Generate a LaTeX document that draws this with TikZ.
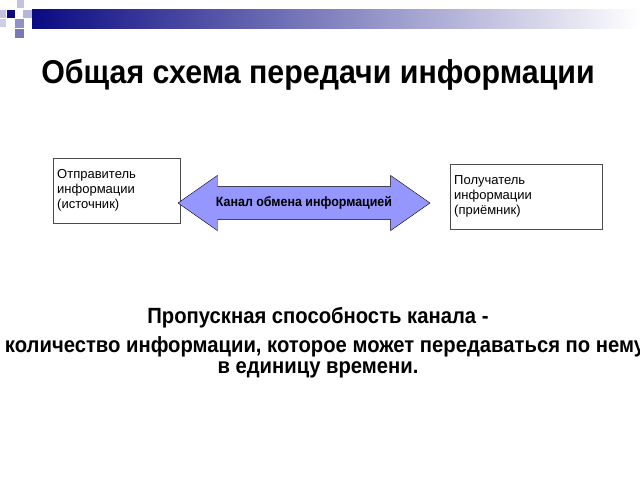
\documentclass[tikz,border=0pt]{standalone}
\usepackage{fontspec}
\setmainfont{Liberation Sans}
\newfontfamily\narrowbf[FakeStretch=0.92]{Liberation Sans Bold}
\usetikzlibrary{shapes.arrows}
\definecolor{navy}{RGB}{10,10,130}
\definecolor{lilac}{RGB}{150,150,255}
\tikzstyle{party} = [rectangle, draw=black!70, fill=white, align=left, anchor=north west, font=\fontsize{13}{15}\selectfont, inner sep=4pt]
\tikzstyle{channel} = [double arrow, draw=black, fill=lilac, minimum height=252pt, inner xsep=4pt, inner ysep=10pt, double arrow head extend=11pt, double arrow tip angle=70, font=\narrowbf\fontsize{13.5}{15}\selectfont]
\tikzstyle{heading} = [font=\narrowbf\fontsize{33}{38}\selectfont]
\tikzstyle{statement} = [font=\narrowbf\fontsize{22}{24}\selectfont]
\begin{document}
\begin{tikzpicture}[x=1pt, y=-1pt]
\useasboundingbox (0,0) rectangle (640,480);
% decoration at the top
\shade[left color=navy, right color=white] (32,9) rectangle (640,28);
\fill[navy] (7,10) rectangle (15,18);
\fill[navy!25] (0,10) rectangle (6,18);
\fill[navy!25] (17,0) rectangle (24,8);
\fill[navy!30] (23,10) rectangle (32,18);
\fill[navy!45] (15,19) rectangle (24,28);
\fill[navy!55] (15,29) rectangle (24,38);
\fill[navy!20] (0,19) rectangle (6,27);

\node (title) [heading] at (318,75) {Общая схема передачи информации};

\node (sender) [party, text width=119pt, minimum height=65pt] at (53,158) {Отправитель\\информации\\(источник)};
\node (receiver) [party, text width=144pt, minimum height=65pt] at (450,164) {Получатель\\информации\\(приёмник)};
\node (link) [channel] at (304,203) {Канал обмена информацией};

\node (capacity) [statement] at (318,318) {Пропускная способность канала -};
\node (definition) [statement] at (325,347) {количество информации, которое может передаваться по нему};
\node (unit) [statement] at (318,370) {в единицу времени.};
\end{tikzpicture}
\end{document}
